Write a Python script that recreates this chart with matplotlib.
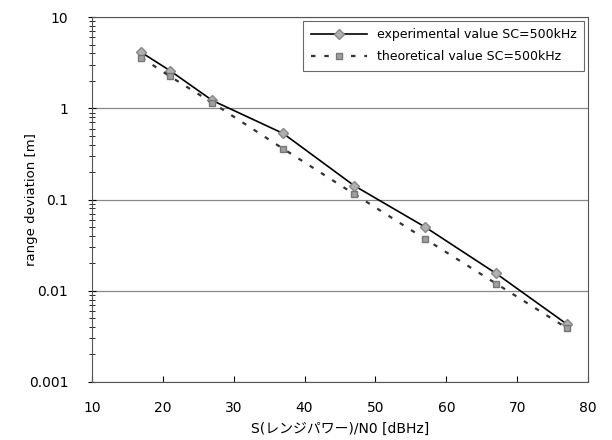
import matplotlib
matplotlib.use('Agg')
import matplotlib.pyplot as plt
from matplotlib.ticker import LogLocator, FixedLocator, FuncFormatter

plt.rcParams['font.family'] = ['DejaVu Sans', 'Noto Sans CJK JP']
plt.rcParams['axes.unicode_minus'] = False

# data
snr = [17, 21, 27, 37, 47, 57, 67, 77]
experimental = [4.1, 2.6, 1.22, 0.53, 0.142, 0.050, 0.0155, 0.0043]
theoretical = [3.6, 2.25, 1.15, 0.36, 0.115, 0.037, 0.012, 0.0039]

fig = plt.figure(figsize=(6.12, 4.4), dpi=100)
ax = fig.add_axes([0.150, 0.132, 0.811, 0.829])

ax.plot(snr, experimental, color='black', lw=1.2, marker='D', ms=5,
        mfc='#b0b0b0', mec='#888888', label='experimental value SC=500kHz')
ax.plot(snr, theoretical, color='#333333', lw=1.6, ls=(0, (2, 4)), marker='s', ms=5,
        mfc='#a0a0a0', mec='#777777', label='theoretical value SC=500kHz')

ax.set_yscale('log')
ax.set_xlim(10, 80)
ax.set_ylim(0.001, 10)
ax.set_xticks(range(10, 81, 10))
ax.yaxis.set_major_locator(FixedLocator([0.001, 0.01, 0.1, 1, 10]))
ax.yaxis.set_major_formatter(FuncFormatter(lambda v, p: f'{v:g}'))
ax.yaxis.set_minor_locator(LogLocator(base=10, subs=range(2, 10)))
ax.yaxis.grid(True, which='major', color='#888888', lw=0.9)
ax.tick_params(axis='y', which='major', direction='inout', length=6, labelsize=10, pad=14)
ax.tick_params(axis='y', which='minor', direction='inout', length=4)
ax.tick_params(axis='x', direction='in', length=4, labelsize=10, pad=14)

for s in ax.spines.values():
    s.set_color('#555555')
    s.set_linewidth(0.8)

ax.set_xlabel('S(レンジパワー)/N0 [dBHz]', fontsize=10, labelpad=5)
ax.set_ylabel('range deviation [m]', fontsize=9.5)
ax.yaxis.set_label_coords(-0.109, 0.5)

leg = ax.legend(loc='upper right', fontsize=9, frameon=True, fancybox=False,
                edgecolor='#444444', borderaxespad=0.3, handlelength=4.5,
                labelspacing=0.7, borderpad=0.6)
leg.get_frame().set_linewidth(0.8)

fig.savefig('out.png', dpi=100)
